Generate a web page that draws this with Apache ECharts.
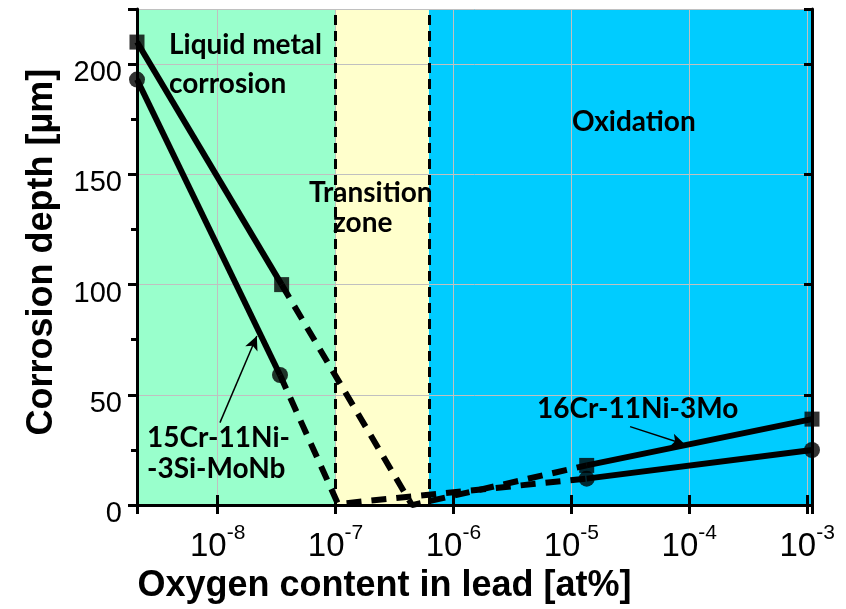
<!DOCTYPE html>
<html lang="en">
<head>
    <meta charset="UTF-8">
    <title>Corrosion depth vs oxygen content</title>
    <style>
        html, body { margin: 0; padding: 0; background: #fff; }
        #main { width: 846px; height: 609px; }
    </style>
</head>
<body>
<div id="main"></div>
<script src="https://cdn.jsdelivr.net/npm/echarts@6/dist/echarts.min.js"></script>
<script>
    // data
    var squareX = [2.07e-9, 3.49e-8, 1.35e-5, 1.1e-3];
    var squareY = [210, 100, 18, 39];
    var squareDashX = [3.49e-8, 4.45e-7, 1.35e-5];
    var squareDashY = [100, 0, 18];

    var circleX = [2.07e-9, 3.38e-8, 1.35e-5, 1.1e-3];
    var circleY = [193, 59, 12, 25];
    var circleDashX = [3.38e-8, 1.05e-7, 1.35e-5];
    var circleDashY = [59, 0.5, 12];

    // regions: liquid metal corrosion / transition zone / oxidation
    var zoneEdges = [2.07e-9, 1e-7, 6.2e-7, 1.1e-3];
    var zoneColors = ['#99FFCC', '#FFFFCC', '#00CCFF'];

    // label arrows [x1, y1, x2, y2]
    var arrow15Cr = [1.046e-8, 37.4, 2.15e-8, 76.7];
    var arrow16Cr = [3.15e-5, 35.6, 9.23e-5, 27.5];

    var xMin = 2.07e-9, xMax = 1.1e-3;
    var yMin = 0, yMax = 225;

    var sansFont = 'Arial, "Liberation Sans", sans-serif';
    var noteFont = 'bold 28px Lato, "Open Sans", sans-serif';

    function pts(xs, ys, from, to) {
        var out = [];
        for (var i = from; i <= to; i++) out.push([xs[i], ys[i]]);
        return out;
    }

    var zoneData = [];
    for (var i = 0; i < zoneColors.length; i++) {
        zoneData.push([
            {xAxis: zoneEdges[i], itemStyle: {color: zoneColors[i]}},
            {xAxis: zoneEdges[i + 1]}
        ]);
    }

    var solid = {color: '#000', width: 6};
    var dashed = {color: '#000', width: 6, type: [15, 10]};

    var chart = echarts.init(document.getElementById('main'));

    var option = {
        animation: false,
        grid: {left: 137, right: 34, top: 9, bottom: 101},
        xAxis: [
            {
                type: 'log', logBase: 10, min: xMin, max: xMax, position: 'bottom', z: 1.5,
                axisLine: {show: true, onZero: false, lineStyle: {color: '#000', width: 3}},
                axisTick: {show: true, inside: true, length: 10, lineStyle: {color: '#000', width: 3}},
                splitLine: {show: true, lineStyle: {color: '#c0c0c0', width: 1}},
                axisLabel: {
                    margin: 18,
                    formatter: function (v) {
                        var e = Math.log10(v);
                        if (Math.abs(e - Math.round(e)) > 0.01) return '';
                        return '{b|10}{s|' + Math.round(e) + '}';
                    },
                    rich: {
                        b: {fontSize: 33, fontFamily: sansFont, color: '#000', lineHeight: 40, verticalAlign: 'bottom'},
                        s: {fontSize: 21, fontFamily: sansFont, color: '#000', lineHeight: 26, verticalAlign: 'top'}
                    }
                },
                name: 'Oxygen content in lead [at%]',
                nameLocation: 'middle',
                nameGap: 52,
                nameTextStyle: {fontSize: 36, fontWeight: 'bold', fontFamily: sansFont, color: '#000', padding: [0, 180, 0, 0]}
            },
            {
                type: 'log', logBase: 10, min: xMin, max: xMax, position: 'top', z: 1.5,
                axisLine: {show: true, lineStyle: {color: '#000', width: 3}},
                axisTick: {show: true, inside: true, length: 9, lineStyle: {color: '#000', width: 3}},
                axisLabel: {show: false},
                splitLine: {show: false}
            }
        ],
        yAxis: [
            {
                type: 'value', min: yMin, max: yMax, interval: 50, z: 1.5,
                axisLine: {show: true, lineStyle: {color: '#000', width: 3}},
                axisTick: {show: true, length: 9, lineStyle: {color: '#000', width: 3}},
                minorTick: {show: true, splitNumber: 2, length: 6, lineStyle: {color: '#000', width: 3}},
                splitLine: {show: true, lineStyle: {color: '#c0c0c0', width: 1}},
                axisLabel: {
                    fontSize: 29, fontFamily: sansFont, color: '#000', margin: 15,
                    verticalAlign: 'top', lineHeight: 18,
                    formatter: function (v) { return v % 50 === 0 ? String(v) : ''; }
                },
                name: 'Corrosion depth [µm]',
                nameLocation: 'middle',
                nameGap: 77,
                nameTextStyle: {fontSize: 36, fontWeight: 'bold', fontFamily: sansFont, color: '#000', padding: [0, 0, 0, 10]}
            },
            {
                type: 'value', min: yMin, max: yMax, interval: 50, position: 'right', z: 1.5,
                axisLine: {show: true, lineStyle: {color: '#000', width: 3}},
                axisTick: {show: true, inside: true, length: 8, lineStyle: {color: '#000', width: 3}},
                axisLabel: {show: false},
                splitLine: {show: false}
            }
        ],
        graphic: {
            elements: [
                {type: 'text', x: 169, y: 45, z: 4, style: {text: 'Liquid metal', font: noteFont, fill: '#000', verticalAlign: 'middle'}},
                {type: 'text', x: 169, y: 84, z: 4, style: {text: 'corrosion', font: noteFont, fill: '#000', verticalAlign: 'middle'}},
                {type: 'text', x: 309, y: 193, z: 4, style: {text: 'Transition', font: noteFont, fill: '#000', verticalAlign: 'middle'}},
                {type: 'text', x: 333, y: 223, z: 4, style: {text: 'zone', font: noteFont, fill: '#000', verticalAlign: 'middle'}},
                {type: 'text', x: 572, y: 122, z: 4, style: {text: 'Oxidation', font: noteFont, fill: '#000', verticalAlign: 'middle'}},
                {type: 'text', x: 537, y: 409, z: 4, style: {text: '16Cr-11Ni-3Mo', font: noteFont, fill: '#000', verticalAlign: 'middle'}},
                {type: 'text', x: 147, y: 438, z: 4, style: {text: '15Cr-11Ni-', font: noteFont, fill: '#000', verticalAlign: 'middle'}},
                {type: 'text', x: 147, y: 469, z: 4, style: {text: '-3Si-MoNb', font: noteFont, fill: '#000', verticalAlign: 'middle'}}
            ]
        },
        series: [
            {
                name: 'Square, solid (low O)', type: 'line', symbol: 'none', clip: false,
                lineStyle: solid, data: pts(squareX, squareY, 0, 1),
                markArea: {silent: true, data: zoneData},
                markLine: {
                    silent: true, symbol: 'none', label: {show: false},
                    lineStyle: {color: '#000', width: 3, type: [10, 6]},
                    data: [[{coord: [zoneEdges[1], yMin]}, {coord: [zoneEdges[1], yMax]}],
                           [{coord: [zoneEdges[2], yMin]}, {coord: [zoneEdges[2], yMax]}]]
                }
            },
            {name: 'Square, dashed', type: 'line', symbol: 'none', clip: false, lineStyle: dashed, data: pts(squareDashX, squareDashY, 0, squareDashX.length - 1)},
            {name: 'Square, solid (high O)', type: 'line', symbol: 'none', clip: false, lineStyle: solid, data: pts(squareX, squareY, 2, 3)},
            {name: 'Circle, solid (low O)', type: 'line', symbol: 'none', clip: false, lineStyle: solid, data: pts(circleX, circleY, 0, 1),
                markLine: {
                    silent: true, symbol: ['none', 'arrow'], symbolSize: [10, 14], label: {show: false},
                    lineStyle: {color: '#000', width: 1.5, type: 'solid'},
                    data: [[{coord: [arrow15Cr[0], arrow15Cr[1]]}, {coord: [arrow15Cr[2], arrow15Cr[3]]}],
                           [{coord: [arrow16Cr[0], arrow16Cr[1]]}, {coord: [arrow16Cr[2], arrow16Cr[3]]}]]
                }
            },
            {name: 'Circle, dashed', type: 'line', symbol: 'none', clip: false, lineStyle: dashed, data: pts(circleDashX, circleDashY, 0, circleDashX.length - 1)},
            {name: 'Circle, solid (high O)', type: 'line', symbol: 'none', clip: false, lineStyle: solid, data: pts(circleX, circleY, 2, 3)},
            {name: 'Square', type: 'scatter', symbol: 'rect', symbolSize: 15, clip: false, z: 3, itemStyle: {color: '#000'}, data: pts(squareX, squareY, 0, 3)},
            {name: 'Circle', type: 'scatter', symbol: 'circle', symbolSize: 16, clip: false, z: 3, itemStyle: {color: '#000'}, data: pts(circleX, circleY, 0, 3)}
        ]
    };
    chart.setOption(option);
</script>
</body>
</html>
